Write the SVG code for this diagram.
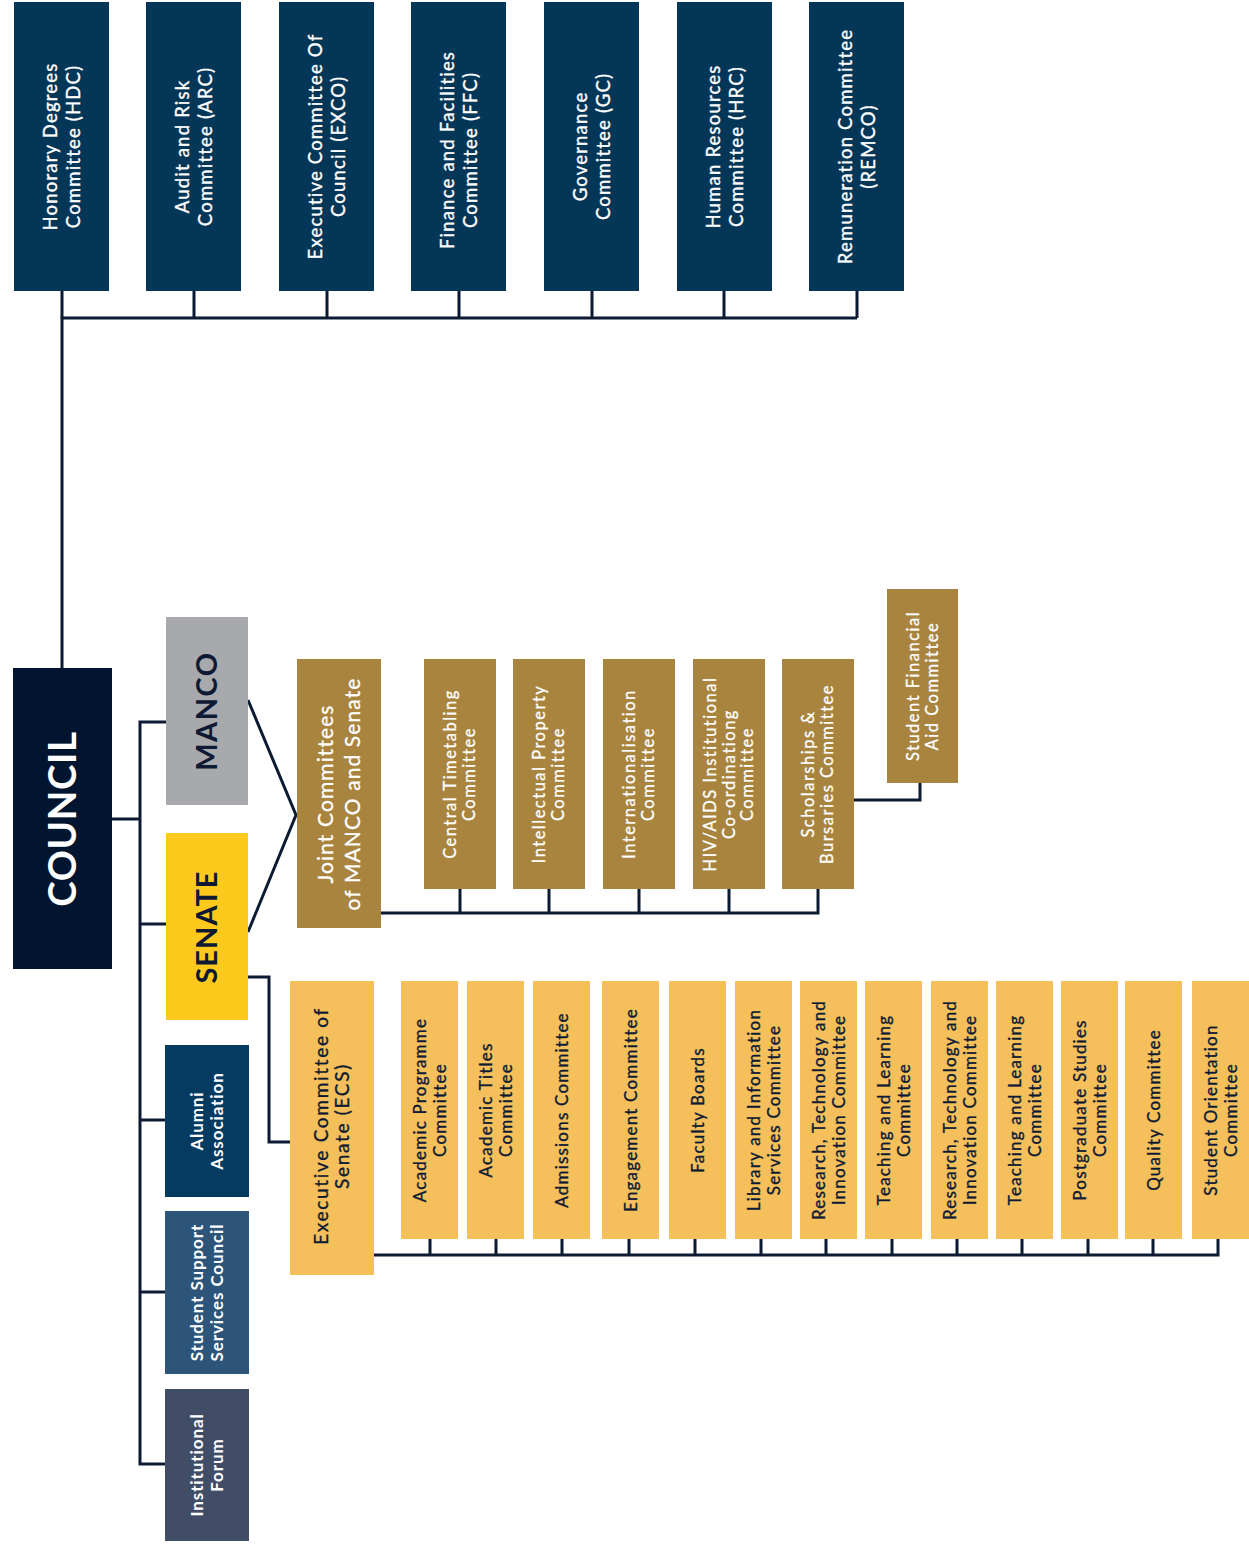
<svg xmlns="http://www.w3.org/2000/svg" width="1249" height="1546" viewBox="0 0 1249 1546">
<style>
text{font-family:Lato,"Noto Sans","DejaVu Sans",sans-serif;text-anchor:middle}
.top{fill:#043658}
.gold{fill:#a8843f}
.yel{fill:#f5c05c}
.tw{fill:#fff;stroke:#fff;stroke-width:0.35px;font-size:18.5px;letter-spacing:1.2px}
.tg{fill:#fff;stroke:#fff;stroke-width:0.3px;font-size:16.5px;letter-spacing:1.5px}
.ty{fill:#0e1a33;stroke:#0e1a33;stroke-width:0.35px;font-size:17px;letter-spacing:1.2px}
.tb{fill:#fff;font-size:17px;letter-spacing:0.9px;font-weight:700}
.conn path,.conn polyline{fill:none;stroke:#0d1a33;stroke-width:3}
</style>
<rect width="1249" height="1546" fill="#fff"/>
<g class="conn" id="connectors">
<path d="M62,668 V318 H857"/>
<path d="M62,291V318 M194,291V318 M327,291V318 M459,291V318 M592,291V318 M724,291V318 M857,291V318"/>
<path d="M112,819 H140"/>
<path d="M166,722 H140 V1464 H165"/>
<path d="M140,924 H166 M140,1120 H165 M140,1292 H165"/>
<polyline points="248,700 296,815 248,932"/>
<path d="M381,913 H818 V889"/>
<path d="M460,889V913 M549,889V913 M639,889V913 M729,889V913"/>
<path d="M854,800 H920 V783"/>
<path d="M248,977 H269 V1142 H290"/>
<path d="M374,1255 H1218 V1239"/>
<path d="M430,1239V1255 M496,1239V1255 M562,1239V1255 M629,1239V1255 M695,1239V1255 M761,1239V1255 M826,1239V1255 M892,1239V1255 M957,1239V1255 M1022,1239V1255 M1088,1239V1255 M1153,1239V1255"/>
</g>
<g id="hdc"><rect class="top" x="14" y="2" width="95" height="289"/><text class="tw" transform="translate(61.5,146.5) rotate(-90)"><tspan x="0" y="-5">Honorary Degrees</tspan><tspan x="0" y="18">Committee (HDC)</tspan></text></g>
<g id="arc"><rect class="top" x="146" y="2" width="95" height="289"/><text class="tw" transform="translate(193.5,146.5) rotate(-90)"><tspan x="0" y="-5">Audit and Risk</tspan><tspan x="0" y="18">Committee (ARC)</tspan></text></g>
<g id="exco"><rect class="top" x="279" y="2" width="95" height="289"/><text class="tw" transform="translate(326.5,146.5) rotate(-90)"><tspan x="0" y="-5">Executive Committee Of</tspan><tspan x="0" y="18">Council (EXCO)</tspan></text></g>
<g id="ffc"><rect class="top" x="411" y="2" width="95" height="289"/><text class="tw" transform="translate(458.5,150) rotate(-90)"><tspan x="0" y="-5">Finance and Facilities</tspan><tspan x="0" y="18">Committee (FFC)</tspan></text></g>
<g id="gc"><rect class="top" x="544" y="2" width="95" height="289"/><text class="tw" transform="translate(591.5,146.5) rotate(-90)"><tspan x="0" y="-5">Governance</tspan><tspan x="0" y="18">Committee (GC)</tspan></text></g>
<g id="hrc"><rect class="top" x="677" y="2" width="95" height="289"/><text class="tw" transform="translate(724.5,146.5) rotate(-90)"><tspan x="0" y="-5">Human Resources</tspan><tspan x="0" y="18">Committee (HRC)</tspan></text></g>
<g id="remco"><rect class="top" x="809" y="2" width="95" height="289"/><text class="tw" transform="translate(856.5,146.5) rotate(-90)"><tspan x="0" y="-5">Remuneration Committee</tspan><tspan x="0" y="18">(REMCO)</tspan></text></g>
<g id="council"><rect x="13" y="668" width="99" height="301" fill="#011530"/><text transform="translate(62.5,819) rotate(-90)" style="fill:#fff;font-size:38.5px;font-weight:700;letter-spacing:0.6px"><tspan x="0" y="13.4">COUNCIL</tspan></text></g>
<g id="manco"><rect x="166" y="617" width="82" height="188" fill="#a8a9ac"/><text transform="translate(207,711) rotate(-90)" style="fill:#0e1a33;font-size:29px;font-weight:700;letter-spacing:1.5px"><tspan x="0" y="10">MANCO</tspan></text></g>
<g id="senate"><rect x="166" y="833" width="82" height="187" fill="#fdc91d"/><text transform="translate(207,927) rotate(-90)" style="fill:#0e1a33;font-size:29px;font-weight:700;letter-spacing:1px"><tspan x="0" y="10">SENATE</tspan></text></g>
<g id="alumni"><rect x="165" y="1045" width="84" height="152" fill="#053b61"/><text class="tb" transform="translate(207,1121) rotate(-90)"><tspan x="0" y="-4">Alumni</tspan><tspan x="0" y="15.5">Association</tspan></text></g>
<g id="sssc"><rect x="165" y="1211" width="84" height="163" fill="#2c5579"/><text class="tb" transform="translate(207,1292.5) rotate(-90)"><tspan x="0" y="-4">Student Support</tspan><tspan x="0" y="15.5">Services Council</tspan></text></g>
<g id="if"><rect x="165" y="1389" width="84" height="152" fill="#414c66"/><text class="tb" transform="translate(207,1465) rotate(-90)"><tspan x="0" y="-4">Institutional</tspan><tspan x="0" y="15.5">Forum</tspan></text></g>
<g id="joint"><rect class="gold" x="297" y="659" width="84" height="269"/><text transform="translate(339,794) rotate(-90)" style="fill:#fff;stroke:#fff;stroke-width:0.3px;font-size:21px;letter-spacing:1.1px"><tspan x="0" y="-6.1">Joint Committees</tspan><tspan x="0" y="20.9">of MANCO and Senate</tspan></text></g>
<g id="ctc"><rect class="gold" x="424" y="659" width="72" height="230"/><text class="tg" transform="translate(460,774) rotate(-90)"><tspan x="0" y="-3.6">Central Timetabling</tspan><tspan x="0" y="15">Committee</tspan></text></g>
<g id="ipc"><rect class="gold" x="513" y="659" width="72" height="230"/><text class="tg" transform="translate(549,774) rotate(-90)"><tspan x="0" y="-3.6">Intellectual Property</tspan><tspan x="0" y="15">Committee</tspan></text></g>
<g id="intc"><rect class="gold" x="603" y="659" width="72" height="230"/><text class="tg" transform="translate(639,774) rotate(-90)"><tspan x="0" y="-3.6">Internationalisation</tspan><tspan x="0" y="15">Committee</tspan></text></g>
<g id="hiv"><rect class="gold" x="693" y="659" width="72" height="230"/><text class="tg" transform="translate(729,774) rotate(-90)"><tspan x="0" y="-12.8">HIV/AIDS Institutional</tspan><tspan x="0" y="5.6">Co-ordinationg</tspan><tspan x="0" y="24">Committee</tspan></text></g>
<g id="sbc"><rect class="gold" x="782" y="659" width="72" height="230"/><text class="tg" transform="translate(818,774) rotate(-90)"><tspan x="0" y="-3.6">Scholarships &amp;</tspan><tspan x="0" y="15">Bursaries Committee</tspan></text></g>
<g id="sfac"><rect class="gold" x="887" y="589" width="71" height="194"/><text class="tg" transform="translate(922.5,686) rotate(-90)"><tspan x="0" y="-3.6">Student Financial</tspan><tspan x="0" y="15">Aid Committee</tspan></text></g>
<g id="ecs"><rect class="yel" x="290" y="981" width="84" height="294"/><text class="ty" transform="translate(332,1126) rotate(-90)" style="font-size:19px;letter-spacing:1.7px"><tspan x="0" y="-4">Executive Committee of</tspan><tspan x="0" y="17">Senate (ECS)</tspan></text></g>
<g id="apc"><rect class="yel" x="401" y="981" width="57" height="258"/><text class="ty" transform="translate(429.5,1110) rotate(-90)"><tspan x="0" y="-4">Academic Programme</tspan><tspan x="0" y="16">Committee</tspan></text></g>
<g id="atc"><rect class="yel" x="467" y="981" width="57" height="258"/><text class="ty" transform="translate(495.5,1110) rotate(-90)"><tspan x="0" y="-4">Academic Titles</tspan><tspan x="0" y="16">Committee</tspan></text></g>
<g id="adc"><rect class="yel" x="533" y="981" width="57" height="258"/><text class="ty" transform="translate(561.5,1110) rotate(-90)"><tspan x="0" y="6">Admissions Committee</tspan></text></g>
<g id="enc"><rect class="yel" x="602" y="981" width="57" height="258"/><text class="ty" transform="translate(630.5,1110) rotate(-90)"><tspan x="0" y="6">Engagement Committee</tspan></text></g>
<g id="fb"><rect class="yel" x="669" y="981" width="57" height="258"/><text class="ty" transform="translate(697.5,1110) rotate(-90)"><tspan x="0" y="6">Faculty Boards</tspan></text></g>
<g id="lisc"><rect class="yel" x="735" y="981" width="57" height="258"/><text class="ty" transform="translate(763.5,1110) rotate(-90)"><tspan x="0" y="-4">Library and Information</tspan><tspan x="0" y="16">Services Committee</tspan></text></g>
<g id="rtic1"><rect class="yel" x="800" y="981" width="57" height="258"/><text class="ty" transform="translate(828.5,1110) rotate(-90)"><tspan x="0" y="-4">Research, Technology and</tspan><tspan x="0" y="16">Innovation Committee</tspan></text></g>
<g id="tlc1"><rect class="yel" x="865" y="981" width="57" height="258"/><text class="ty" transform="translate(893.5,1110) rotate(-90)"><tspan x="0" y="-4">Teaching and Learning</tspan><tspan x="0" y="16">Committee</tspan></text></g>
<g id="rtic2"><rect class="yel" x="931" y="981" width="57" height="258"/><text class="ty" transform="translate(959.5,1110) rotate(-90)"><tspan x="0" y="-4">Research, Technology and</tspan><tspan x="0" y="16">Innovation Committee</tspan></text></g>
<g id="tlc2"><rect class="yel" x="996" y="981" width="57" height="258"/><text class="ty" transform="translate(1024.5,1110) rotate(-90)"><tspan x="0" y="-4">Teaching and Learning</tspan><tspan x="0" y="16">Committee</tspan></text></g>
<g id="psc"><rect class="yel" x="1061" y="981" width="57" height="258"/><text class="ty" transform="translate(1089.5,1110) rotate(-90)"><tspan x="0" y="-4">Postgraduate Studies</tspan><tspan x="0" y="16">Committee</tspan></text></g>
<g id="qc"><rect class="yel" x="1125" y="981" width="57" height="258"/><text class="ty" transform="translate(1153.5,1110) rotate(-90)"><tspan x="0" y="6">Quality Committee</tspan></text></g>
<g id="soc"><rect class="yel" x="1192" y="981" width="57" height="258"/><text class="ty" transform="translate(1220.5,1110) rotate(-90)"><tspan x="0" y="-4">Student Orientation</tspan><tspan x="0" y="16">Committee</tspan></text></g>
</svg>
